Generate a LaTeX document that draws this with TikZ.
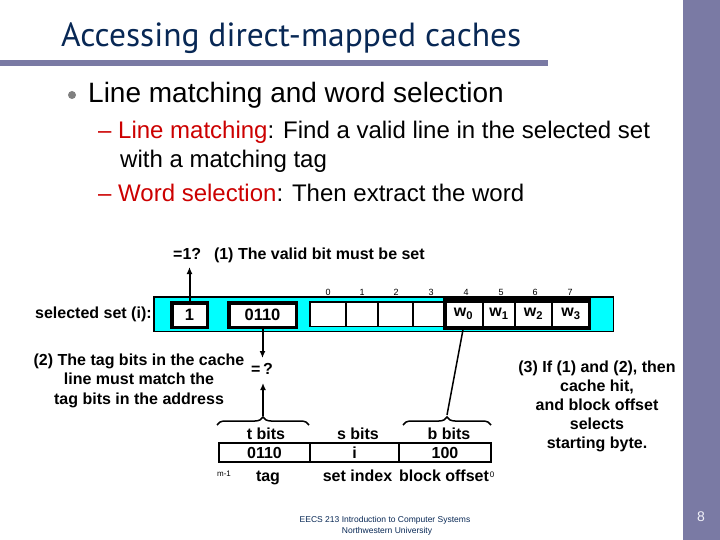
\documentclass[tikz,border=0pt]{standalone}
\usepackage{fontspec}
\setmainfont{Liberation Sans}
\newfontfamily\titlefont{PT Sans}
\usetikzlibrary{arrows.meta,decorations.pathreplacing}
\definecolor{barcol}{RGB}{122,122,164}
\definecolor{navy}{RGB}{8,40,85}
\definecolor{redtxt}{RGB}{204,0,0}
\definecolor{cyanfill}{RGB}{0,255,255}
\definecolor{bulletgray}{RGB}{128,128,128}
\definecolor{pagenum}{RGB}{240,240,248}
\begin{document}
\begin{tikzpicture}[x=1pt,y=-1pt,
  txt/.style={inner sep=0pt,anchor=base},
  txtw/.style={inner sep=0pt,anchor=base west},
  big/.style={font=\fontsize{28}{32}\selectfont},
  sub/.style={font=\fontsize{24}{28}\selectfont},
  bl/.style={font=\fontsize{16}{19}\selectfont\bfseries},
  rg/.style={font=\fontsize{16.5}{19}\selectfont\bfseries},
  num/.style={font=\fontsize{9}{10}\selectfont},
  tiny/.style={font=\fontsize{8}{9}\selectfont},
  thickbox/.style={draw,line width=3.5pt,inner sep=0pt},
  cell/.style={draw,line width=1.5pt,inner sep=0pt,minimum height=24.5pt,font=\fontsize{16}{18}\selectfont\bfseries},
  field/.style={draw,line width=2pt,inner sep=0pt,minimum height=19pt,font=\fontsize{16}{19}\selectfont\bfseries},
  arr/.style={line width=2pt,-{Latex[length=7pt,width=6pt]}},
  bracestyle/.style={decorate,decoration={brace,amplitude=8pt},line width=1.5pt},
  foot/.style={inner sep=0pt,anchor=base,text=navy,font=\fontsize{8.5}{10}\selectfont}
]
\useasboundingbox (0,0) rectangle (720,540);
% slide decoration
\fill[barcol] (683,0) rectangle (720,540);
\fill[barcol] (0,60) rectangle (548,66);
\node[txtw,text=navy,font=\titlefont\fontsize{33.5}{38}\selectfont] (title) at (61,47) {Accessing direct-mapped caches};
% bullets
\fill[bulletgray] (72,95) circle (4pt);
\node[txtw,big] (b1) at (88,103) {Line matching and word selection};
\node[txtw,sub] (b2) at (98,139) {\textcolor{redtxt}{– Line matching}: Find a valid line in the selected set};
\node[txtw,sub] (b2b) at (120,168) {with a matching tag};
\node[txtw,sub] (b3) at (98,202) {\textcolor{redtxt}{– Word selection}: Then extract the word};
% set line
\node[draw,line width=1.5pt,fill=cyanfill,minimum width=459.5pt,minimum height=34.5pt,inner sep=0pt] (setline) at (383.5,314) {};
\node[thickbox,fill=white,minimum width=35.5pt,minimum height=24.5pt,rg] (valid) at (189.5,315) {1};
\node[thickbox,fill=white,minimum width=67.5pt,minimum height=24.5pt,rg] (tagbox) at (262.5,315) {0110};
\node[cell,fill=white,minimum width=36pt] (c0) at (328,314) {};
\node[cell,fill=white,minimum width=32pt] (c1) at (362,314) {};
\node[cell,fill=white,minimum width=35pt] (c2) at (395.5,314) {};
\node[cell,fill=white,minimum width=31pt] (c3) at (428.5,314) {};
\node[cell,fill=white,minimum width=39pt] (c4) at (463.5,314) {w\textsubscript{0}};
\node[cell,fill=white,minimum width=32pt] (c5) at (499,314) {w\textsubscript{1}};
\node[cell,fill=white,minimum width=37pt] (c6) at (533.5,314) {w\textsubscript{2}};
\node[cell,fill=white,minimum width=38pt] (c7) at (571,314) {w\textsubscript{3}};
\draw[line width=3.5pt] ([shift={(1.5,-1)}]c4.north west) rectangle ([shift={(-1.5,1)}]c7.south east);
% byte numbers
\foreach \i/\x in {0/328,1/362,2/396,3/431,4/466,5/501,6/535,7/570}
  \node[txt,num] (n\i) at (\x,295) {\i};
\node[txtw,bl] (seltxt) at (35,318.5) {selected set (i):};
% valid bit
\node[txtw,bl] (eqone) at (173,259.5) {=1?\hspace{0.8em}(1) The valid bit must be set};
\coordinate (vtip) at (189.5,267);
\draw[arr] (valid.north) -- (vtip);
% tag comparison
\node[txt,bl] (eqq) at (262,374) {=\,?};
\coordinate (ttip) at (262.5,358);
\draw[arr] (tagbox.south) -- (ttip);
\node[txt,bl] (m1) at (139,365.5) {(2) The tag bits in the cache};
\node[txt,bl] (m2) at (139,384.5) {line must match the};
\node[txt,bl] (m3) at (139,404.5) {tag bits in the address};
% address
\node[field,minimum width=91pt] (tagf) at (264.5,452.5) {0110};
\node[field,minimum width=89pt] (setf) at (354.5,452.5) {i};
\node[field,minimum width=92pt] (offf) at (445,452.5) {100};
\node[txt,bl] (tb) at (266,439.5) {t bits};
\node[txt,bl] (sb) at (358,439.5) {s bits};
\node[txt,bl] (bb) at (449,439.5) {b bits};
\node[txt,bl] (tagl) at (268,481.5) {tag};
\node[txt,bl] (setl) at (357.5,481.5) {set index};
\node[txt,bl] (offl) at (444,481.5) {block offset};
\node[txt,tiny] (mm) at (224,476) {m-1};
\node[txt,tiny] (zz) at (492,477) {0};
% braces
\draw[bracestyle] (217,425) -- (309,425);
\draw[bracestyle] (403,425) -- (491,425);
\coordinate (tbrace) at (263,416);
\coordinate (obrace) at (447,415);
\coordinate (utip) at (263,383);
\draw[arr] (tbrace) -- (utip);
\draw[line width=1.5pt] (obrace) -- (c4.south);
% (3) note
\node[txt,bl] (h1) at (597,372.5) {(3) If (1) and (2), then};
\node[txt,bl] (h2) at (597,391.5) {cache hit,};
\node[txt,bl] (h3) at (597,410.5) {and block offset};
\node[txt,bl] (h4) at (597,429.5) {selects};
\node[txt,bl] (h5) at (597,448.5) {starting byte.};
% footer
\node[foot] (f1) at (385,522) {EECS 213 Introduction to Computer Systems};
\node[foot] (f2) at (387,533.5) {Northwestern University};
\node[txt,text=pagenum,font=\fontsize{14}{16}\selectfont] (pg) at (701,521) {8};
\end{tikzpicture}
\end{document}
